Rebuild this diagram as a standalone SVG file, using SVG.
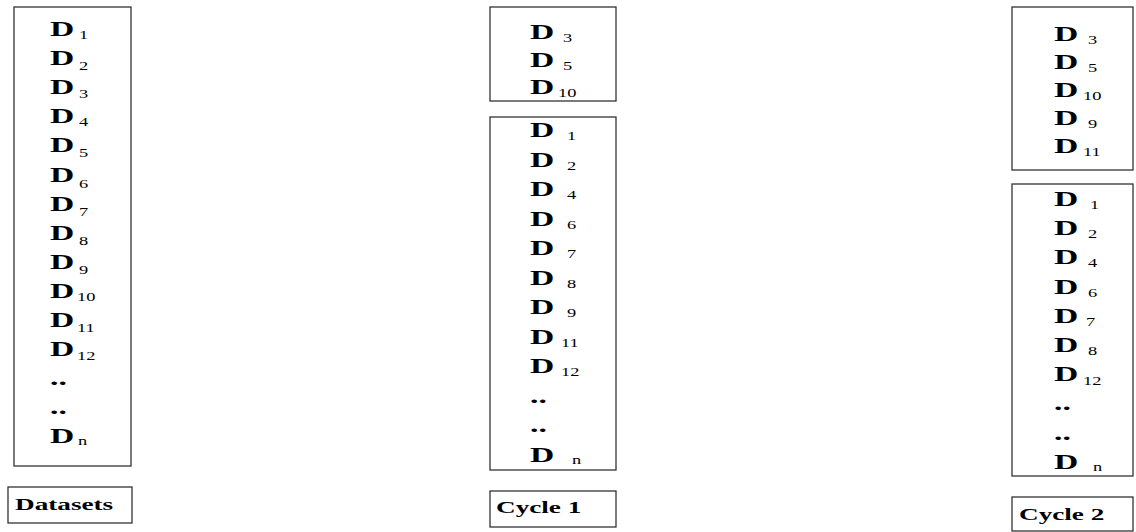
<svg xmlns="http://www.w3.org/2000/svg" width="1136" height="532" viewBox="0 0 1136 532">
<style>
.box{fill:#fff;stroke:#333;stroke-width:1.3}
.d{font-family:"Liberation Serif","Times New Roman",serif;font-weight:bold;font-size:21px;fill:#000}
.s{font-family:"Liberation Serif","Times New Roman",serif;font-size:11.5px;fill:#000}
.lbl{font-family:"Liberation Serif","Times New Roman",serif;font-weight:bold;font-size:17px;fill:#000}
</style>
<rect width="1136" height="532" fill="#fff"/>
<g id="connectors"/>
<g id="datasets-list">
<rect class="box" x="14" y="7" width="117" height="459"/>
<text class="d" transform="translate(50,36) scale(1.6,1)">D</text><text class="s" transform="translate(79,39) scale(1.6,1)">1</text>
<text class="d" transform="translate(50,65.1) scale(1.6,1)">D</text><text class="s" transform="translate(79,70) scale(1.6,1)">2</text>
<text class="d" transform="translate(50,94.2) scale(1.6,1)">D</text><text class="s" transform="translate(79,98) scale(1.6,1)">3</text>
<text class="d" transform="translate(50,123.3) scale(1.6,1)">D</text><text class="s" transform="translate(79,126) scale(1.6,1)">4</text>
<text class="d" transform="translate(50,152.4) scale(1.6,1)">D</text><text class="s" transform="translate(79,157) scale(1.6,1)">5</text>
<text class="d" transform="translate(50,181.5) scale(1.6,1)">D</text><text class="s" transform="translate(79,188) scale(1.6,1)">6</text>
<text class="d" transform="translate(50,210.6) scale(1.6,1)">D</text><text class="s" transform="translate(79,216) scale(1.6,1)">7</text>
<text class="d" transform="translate(50,239.7) scale(1.6,1)">D</text><text class="s" transform="translate(79,245) scale(1.6,1)">8</text>
<text class="d" transform="translate(50,268.8) scale(1.6,1)">D</text><text class="s" transform="translate(79,274) scale(1.6,1)">9</text>
<text class="d" transform="translate(50,297.9) scale(1.6,1)">D</text><text class="s" transform="translate(77,301) scale(1.6,1)">10</text>
<text class="d" transform="translate(50,327) scale(1.6,1)">D</text><text class="s" transform="translate(77,332) scale(1.6,1)">11</text>
<text class="d" transform="translate(50,356.1) scale(1.6,1)">D</text><text class="s" transform="translate(77,360) scale(1.6,1)">12</text>
<text class="d" transform="translate(50,385.2) scale(1.6,1)">..</text>
<text class="d" transform="translate(50,414.3) scale(1.6,1)">..</text>
<text class="d" transform="translate(50,443.4) scale(1.6,1)">D</text><text class="s" transform="translate(78,445.4) scale(1.6,1)">n</text>
</g>
<g id="datasets-label">
<rect class="box" x="8" y="487" width="124" height="36"/>
<text class="lbl" transform="translate(15,510) scale(1.6,1)">Datasets</text>
</g>
<g id="cycle1-selected">
<rect class="box" x="490" y="7" width="126" height="94"/>
<text class="d" transform="translate(530,39) scale(1.6,1)">D</text><text class="s" transform="translate(563,42) scale(1.6,1)">3</text>
<text class="d" transform="translate(530,66.5) scale(1.6,1)">D</text><text class="s" transform="translate(563,69.5) scale(1.6,1)">5</text>
<text class="d" transform="translate(530,94) scale(1.6,1)">D</text><text class="s" transform="translate(558,97) scale(1.6,1)">10</text>
</g>
<g id="cycle1-rest">
<rect class="box" x="490" y="117" width="126" height="353"/>
<text class="d" transform="translate(530,137) scale(1.6,1)">D</text><text class="s" transform="translate(567,140) scale(1.6,1)">1</text>
<text class="d" transform="translate(530,166.5) scale(1.6,1)">D</text><text class="s" transform="translate(567,169.5) scale(1.6,1)">2</text>
<text class="d" transform="translate(530,196) scale(1.6,1)">D</text><text class="s" transform="translate(567,199) scale(1.6,1)">4</text>
<text class="d" transform="translate(530,225.5) scale(1.6,1)">D</text><text class="s" transform="translate(567,228.5) scale(1.6,1)">6</text>
<text class="d" transform="translate(530,255) scale(1.6,1)">D</text><text class="s" transform="translate(567,258) scale(1.6,1)">7</text>
<text class="d" transform="translate(530,284.5) scale(1.6,1)">D</text><text class="s" transform="translate(567,287.5) scale(1.6,1)">8</text>
<text class="d" transform="translate(530,314) scale(1.6,1)">D</text><text class="s" transform="translate(567,317) scale(1.6,1)">9</text>
<text class="d" transform="translate(530,343.5) scale(1.6,1)">D</text><text class="s" transform="translate(561,346.5) scale(1.6,1)">11</text>
<text class="d" transform="translate(530,373) scale(1.6,1)">D</text><text class="s" transform="translate(561,376) scale(1.6,1)">12</text>
<text class="d" transform="translate(530,402.5) scale(1.6,1)">..</text>
<text class="d" transform="translate(530,432) scale(1.6,1)">..</text>
<text class="d" transform="translate(530,461.5) scale(1.6,1)">D</text><text class="s" transform="translate(572,463.5) scale(1.6,1)">n</text>
</g>
<g id="cycle1-label">
<rect class="box" x="490" y="491" width="126" height="36"/>
<text class="lbl" transform="translate(496,513) scale(1.6,1)">Cycle 1</text>
</g>
<g id="cycle2-selected">
<rect class="box" x="1012" y="7" width="121" height="163"/>
<text class="d" transform="translate(1054,41) scale(1.6,1)">D</text><text class="s" transform="translate(1088,44) scale(1.6,1)">3</text>
<text class="d" transform="translate(1054,69) scale(1.6,1)">D</text><text class="s" transform="translate(1088,72) scale(1.6,1)">5</text>
<text class="d" transform="translate(1054,97) scale(1.6,1)">D</text><text class="s" transform="translate(1083,100) scale(1.6,1)">10</text>
<text class="d" transform="translate(1054,125) scale(1.6,1)">D</text><text class="s" transform="translate(1088,128) scale(1.6,1)">9</text>
<text class="d" transform="translate(1054,153) scale(1.6,1)">D</text><text class="s" transform="translate(1083,156) scale(1.6,1)">11</text>
</g>
<g id="cycle2-rest">
<rect class="box" x="1012" y="184" width="121" height="292"/>
<text class="d" transform="translate(1054,206) scale(1.6,1)">D</text><text class="s" transform="translate(1090,209) scale(1.6,1)">1</text>
<text class="d" transform="translate(1054,235.2) scale(1.6,1)">D</text><text class="s" transform="translate(1088,238.2) scale(1.6,1)">2</text>
<text class="d" transform="translate(1054,264.4) scale(1.6,1)">D</text><text class="s" transform="translate(1088,267.4) scale(1.6,1)">4</text>
<text class="d" transform="translate(1054,293.6) scale(1.6,1)">D</text><text class="s" transform="translate(1088,296.6) scale(1.6,1)">6</text>
<text class="d" transform="translate(1054,322.8) scale(1.6,1)">D</text><text class="s" transform="translate(1086,325.8) scale(1.6,1)">7</text>
<text class="d" transform="translate(1054,352) scale(1.6,1)">D</text><text class="s" transform="translate(1088,355) scale(1.6,1)">8</text>
<text class="d" transform="translate(1054,381.2) scale(1.6,1)">D</text><text class="s" transform="translate(1083,385.2) scale(1.6,1)">12</text>
<text class="d" transform="translate(1054,410.4) scale(1.6,1)">..</text>
<text class="d" transform="translate(1054,439.6) scale(1.6,1)">..</text>
<text class="d" transform="translate(1054,468.8) scale(1.6,1)">D</text><text class="s" transform="translate(1093,470.8) scale(1.6,1)">n</text>
</g>
<g id="cycle2-label">
<rect class="box" x="1012" y="497" width="121" height="34"/>
<text class="lbl" transform="translate(1019,520) scale(1.6,1)">Cycle 2</text>
</g>
</svg>
